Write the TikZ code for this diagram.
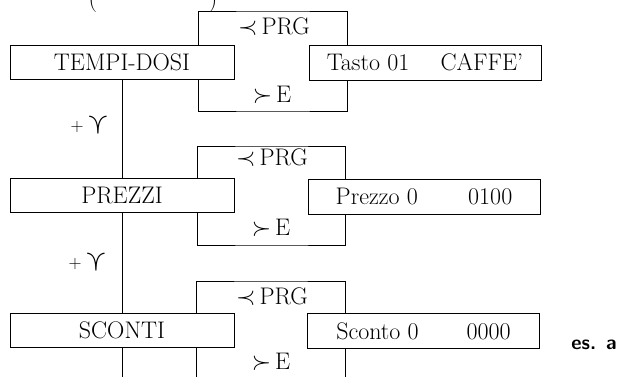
\documentclass[tikz,border=0pt]{standalone}
\usepackage{amssymb}
\usetikzlibrary{positioning}

\begin{document}
\begin{tikzpicture}[x=1pt,y=-1pt,line width=0.8pt,
            font=\fontsize{24}{28}\selectfont,
            mbox/.style = {draw,fill=white,minimum width=224pt,
                minimum height=34pt,inner sep=0pt},
            rbox/.style = {draw,fill=white,minimum width=232pt,
                minimum height=35pt,inner sep=0pt},
            keylab/.style = {inner sep=1pt},
            steplab/.style = {inner sep=1pt,font=\fontsize{18}{20}\selectfont}]
            \useasboundingbox (0,0) rectangle (622,376);
            \node[anchor=base] (paren) at (153,6) {(\hspace{112pt})};
            % menu items
            \node[mbox] (tempi) at (122,62) {TEMPI-DOSI};
            \node[mbox] (prezzi) at (122,195) {PREZZI};
            \node[mbox] (sconti) at (122,330) {SCONTI};
            \coordinate (end) at (122,380);
            % values
            \node[rbox] (tasto) at (425,62.5) {Tasto 01\hspace{1.3em}CAFFE'};
            \node[rbox] (prezzo) at (424,196.5) {Prezzo 0\hspace{2.1em}0100};
            \node[rbox] (sconto) at (423.5,331) {Sconto 0\hspace{2.0em}0000};
            % loops
            \coordinate (t1) at (273,11);
            \coordinate (u1) at (273,111);
            \coordinate (t2) at (272,146);
            \coordinate (u2) at (272,245);
            \coordinate (t3) at (271,281);
            \coordinate (u3) at (271,380);
            \draw ([xshift=-36pt]tempi.north east) |- (t1) -| ([xshift=39pt]tasto.north west);
            \draw ([xshift=-36pt]tempi.south east) |- (u1) -| ([xshift=39pt]tasto.south west);
            \draw ([xshift=-37pt]prezzi.north east) |- (t2) -| ([xshift=38pt]prezzo.north west);
            \draw ([xshift=-37pt]prezzi.south east) |- (u2) -| ([xshift=38pt]prezzo.south west);
            \draw ([xshift=-38pt]sconti.north east) |- (t3) -| ([xshift=38pt]sconto.north west);
            \draw ([xshift=-38pt]sconti.south east) |- (u3) -| ([xshift=38pt]sconto.south west);
            \node[keylab] (prg1) at (274,27) {$\prec$\,PRG};
            \node[keylab] (e1) at (272,95) {$\succ$\,E};
            \node[keylab] (prg2) at (272,158) {$\prec$\,PRG};
            \node[keylab] (e2) at (271,228) {$\succ$\,E};
            \node[keylab] (prg3) at (272,297) {$\prec$\,PRG};
            \node[keylab] (e3) at (271,362) {$\succ$\,E};
            % steps
            \draw (tempi) -- (prezzi);
            \draw (prezzi) -- (sconti);
            \draw (sconti) -- (end);
            \node[steplab] (plus1) at (90,125) {\raisebox{2pt}{+}\,{\fontsize{30}{30}\selectfont$\curlyvee$}};
            \node[steplab] (plus2) at (88,262) {\raisebox{2pt}{+}\,{\fontsize{30}{30}\selectfont$\curlyvee$}};
            \node[font=\fontsize{20}{24}\sffamily\bfseries] (es) at (594,345) {es. a};
        \end{tikzpicture}
\end{document}
